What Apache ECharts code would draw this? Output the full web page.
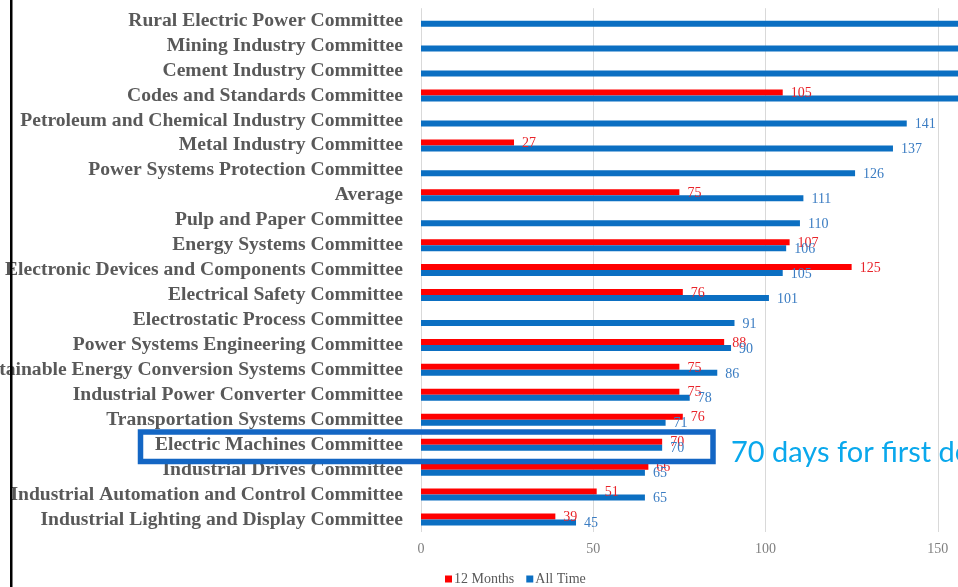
<!DOCTYPE html>
<html>
<head>
<meta charset="utf-8">
<script src="https://cdn.jsdelivr.net/npm/echarts@6/dist/echarts.min.js"></script>
<style>
html,body{margin:0;padding:0;background:#fff;}
#chart{width:958px;height:587px;}
</style>
</head>
<body>
<div id="chart"></div>
<script>
const categories = [
  'Rural Electric Power Committee',
  'Mining Industry Committee',
  'Cement Industry Committee',
  'Codes and Standards Committee',
  'Petroleum and Chemical Industry Committee',
  'Metal Industry Committee',
  'Power Systems Protection Committee',
  'Average',
  'Pulp and Paper Committee',
  'Energy Systems Committee',
  'Electronic Devices and Components Committee',
  'Electrical Safety Committee',
  'Electrostatic Process Committee',
  'Power Systems Engineering Committee',
  'Sustainable Energy Conversion Systems Committee',
  'Industrial Power Converter Committee',
  'Transportation Systems Committee',
  'Electric Machines Committee',
  'Industrial Drives Committee',
  'Industrial Automation and Control Committee',
  'Industrial Lighting and Display Committee'
];
const seriesNames = ['12 Months', 'All Time'];
const twelveMonths = [null, null, null, 105, null, 27, null, 75, null, 107, 125, 76, null, 88, 75, 75, 76, 70, 66, 51, 39];
const allTime = [195, 185, 175, 165, 141, 137, 126, 111, 110, 106, 105, 101, 91, 90, 86, 78, 71, 70, 65, 65, 45];
const xTicks = [0, 50, 100, 150, 200];
const annotationText = '70 days for first decision';

const serif = '"Liberation Serif", "Times New Roman", serif';
const chart = echarts.init(document.getElementById('chart'), null, {renderer: 'canvas'});
chart.setOption({
  animation: false,
  backgroundColor: '#ffffff',
  grid: {
    left: 421, top: 8.2, bottom: 55, right: -152,
    outerBoundsMode: 'none',
    containLabel: false
  },
  legend: {
    data: seriesNames,
    left: 440, top: 567,
    icon: 'rect', itemWidth: 7, itemHeight: 7, itemGap: 12,
    textStyle: {fontFamily: serif, fontSize: 14, color: '#595959', padding: [0, 0, 0, -3]}
  },
  xAxis: {
    type: 'value',
    min: xTicks[0], max: xTicks[xTicks.length - 1], interval: 50,
    axisLine: {show: false}, axisTick: {show: false},
    splitLine: {show: true, lineStyle: {color: '#d9d9d9', width: 1}},
    axisLabel: {fontFamily: serif, fontSize: 14, color: '#7f7f7f', margin: 10}
  },
  yAxis: {
    type: 'category', inverse: true, data: categories,
    axisLine: {show: false}, axisTick: {show: false},
    axisLabel: {interval: 0, hideOverlap: false, fontFamily: serif, fontSize: 19.6, fontWeight: 'bold',
      color: '#595959', margin: 18, padding: [3, 0, 0, 0]}
  },
  series: [
    {
      name: seriesNames[0], type: 'bar', data: twelveMonths,
      barWidth: 6, barGap: '0%', clip: true,
      itemStyle: {color: '#ff0000'},
      label: {show: true, position: 'right', distance: 8, offset: [0, 1],
        fontFamily: serif, fontSize: 14, color: '#e8242a'}
    },
    {
      name: seriesNames[1], type: 'bar', data: allTime,
      barWidth: 6, barGap: '0%', clip: true,
      itemStyle: {color: '#0b6fc2'},
      label: {show: true, position: 'right', distance: 8, offset: [0, 1],
        fontFamily: serif, fontSize: 14, color: '#3a7cc2'}
    }
  ],
  graphic: [
    {type: 'rect', z: 100, shape: {x: 10, y: 0, width: 2.5, height: 587}, style: {fill: '#000000'}},
    {type: 'rect', z: 100, shape: {x: 140.5, y: 432, width: 572.5, height: 29.5},
      style: {fill: 'none', stroke: '#1366c4', lineWidth: 5.5}},
    {type: 'text', z: 100, x: 731, y: 453,
      style: {text: annotationText, font: '29px Lato, "Open Sans", sans-serif', fill: '#0aa8ec',
        verticalAlign: 'middle', align: 'left'}}
  ]
});
</script>
</body>
</html>
